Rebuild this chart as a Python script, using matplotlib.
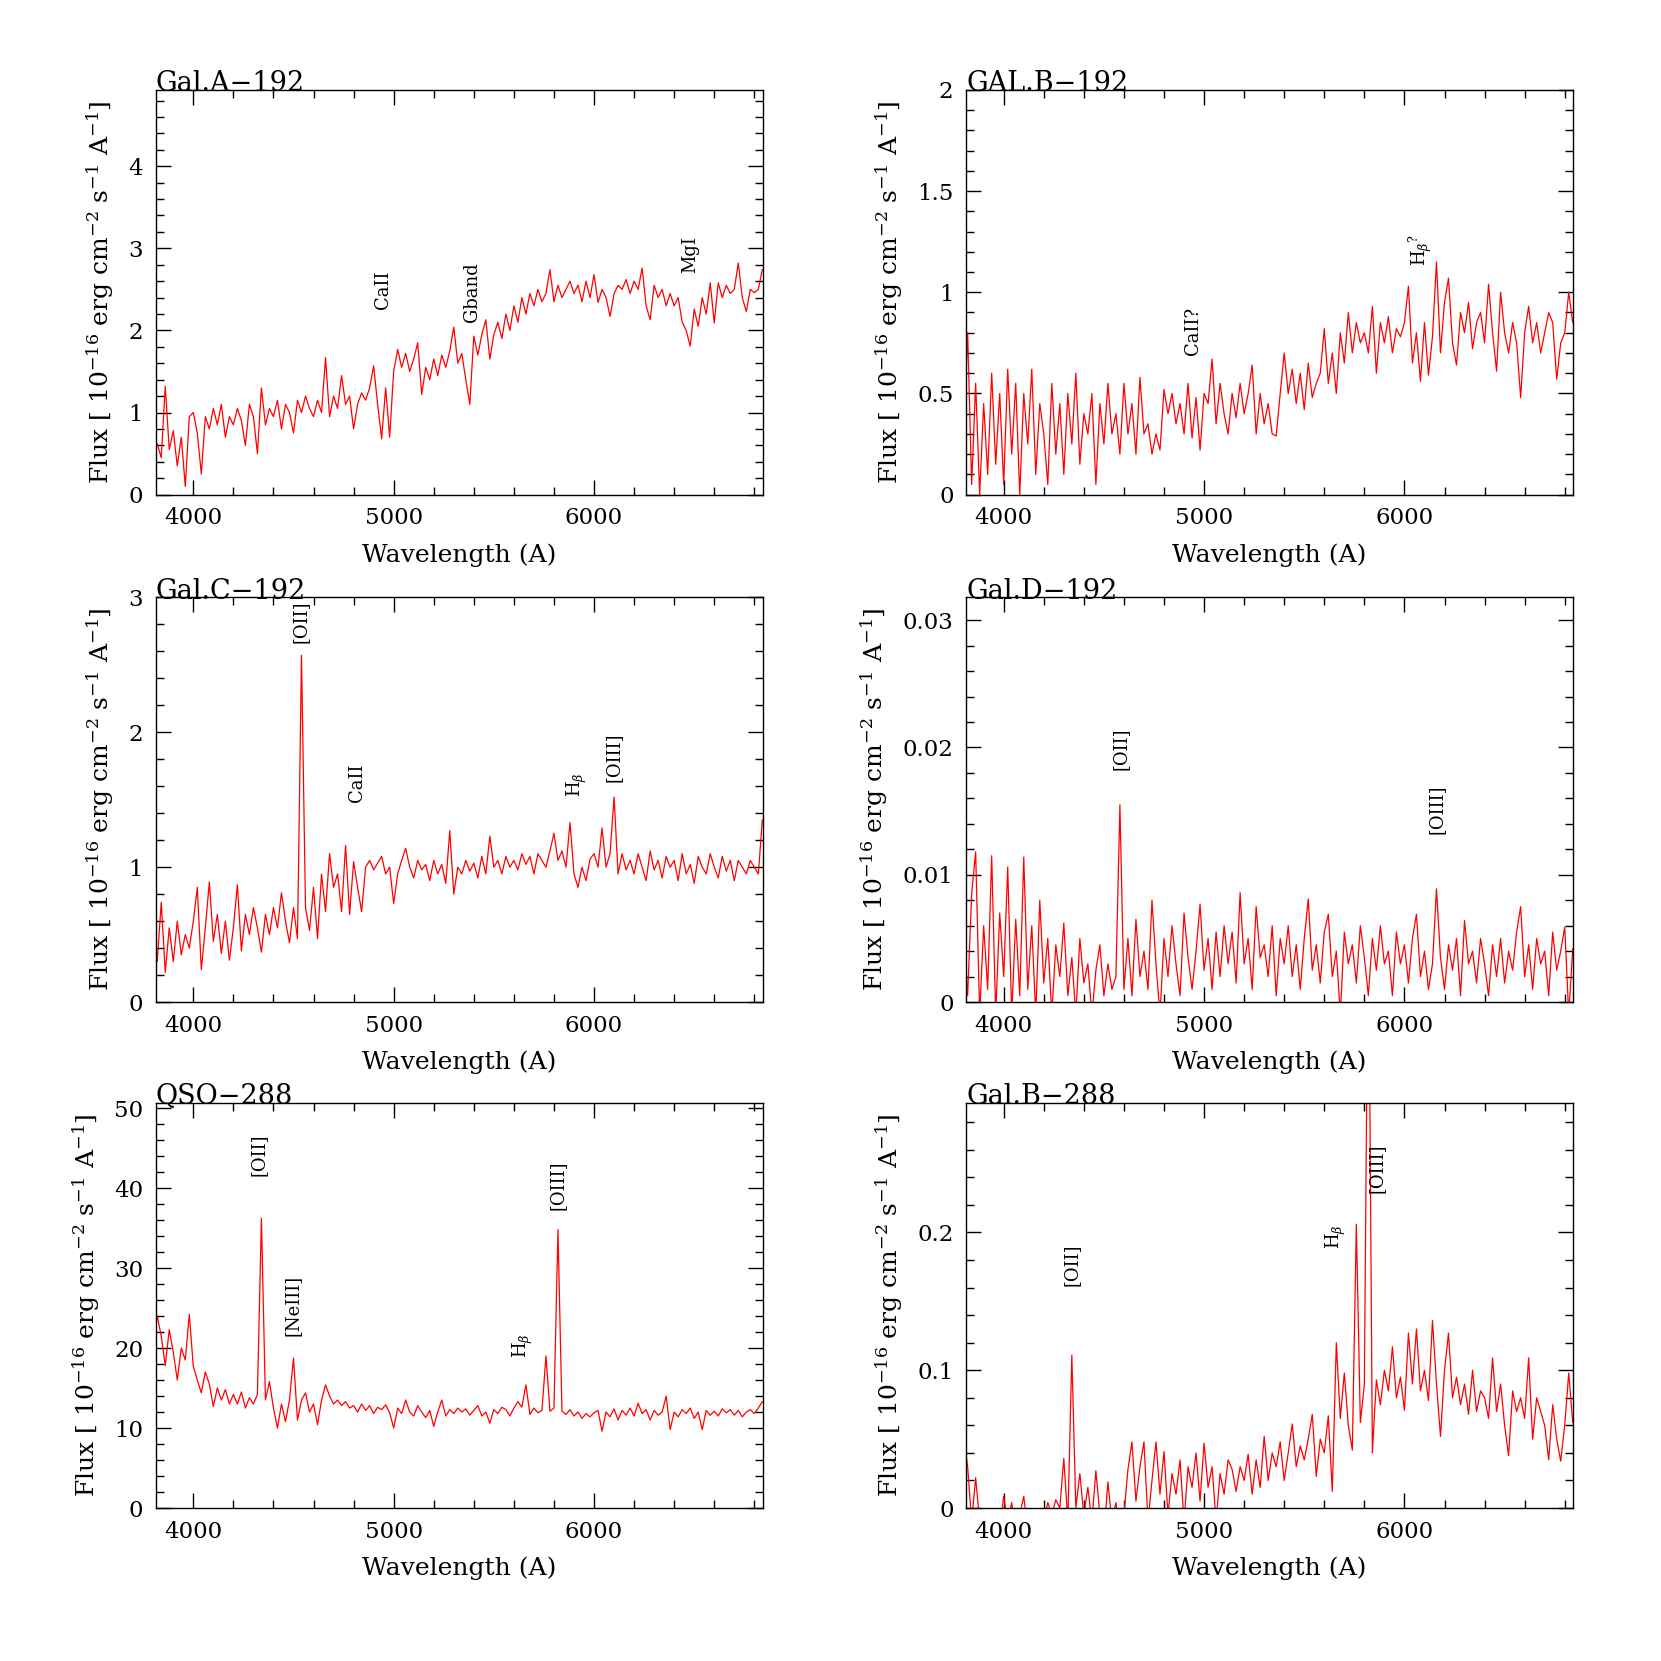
import numpy as np
import matplotlib.pyplot as plt
from matplotlib.ticker import MultipleLocator, FuncFormatter

plt.rcParams['font.family'] = 'DejaVu Serif'
plt.rcParams['mathtext.fontset'] = 'dejavuserif'

# wavelength sampling of the spectra (A)
wave = np.arange(3800, 6841, 20)

gal_a_192 = [
    0.5, 0.62, 0.45, 1.32, 0.55, 0.78, 0.35, 0.7, 0.1, 0.95,
    1.0, 0.75, 0.25, 0.95, 0.8, 1.05, 0.85, 1.1, 0.7, 0.95,
    0.85, 1.05, 0.9, 0.6, 1.1, 0.95, 0.5, 1.3, 0.85, 1.05,
    0.95, 1.15, 0.8, 1.1, 1.0, 0.75, 1.15, 1.0, 1.2, 1.05,
    0.95, 1.15, 1.0, 1.67, 0.95, 1.2, 1.05, 1.45, 1.1, 1.2,
    0.8, 1.1, 1.24, 1.15, 1.3, 1.57, 1.1, 0.68, 1.3, 0.7,
    1.5, 1.77, 1.55, 1.72, 1.5, 1.65, 1.85, 1.22, 1.55, 1.4,
    1.65, 1.45, 1.7, 1.55, 1.75, 2.04, 1.6, 1.72, 1.4, 1.1,
    1.93, 1.7, 1.95, 2.13, 1.65, 1.95, 2.1, 1.9, 2.2, 2.0,
    2.3, 2.1, 2.4, 2.2, 2.45, 2.3, 2.5, 2.35, 2.45, 2.74,
    2.35, 2.55, 2.4, 2.5, 2.6, 2.45, 2.55, 2.35, 2.6, 2.4,
    2.68, 2.34, 2.5, 2.4, 2.17, 2.45, 2.55, 2.5, 2.62, 2.45,
    2.6, 2.5, 2.76, 2.3, 2.13, 2.55, 2.4, 2.5, 2.3, 2.45,
    2.3, 2.4, 2.1, 2.0, 1.81, 2.26, 2.05, 2.4, 2.2, 2.58,
    2.09, 2.58, 2.4, 2.55, 2.45, 2.5, 2.82, 2.4, 2.23, 2.5,
    2.46, 2.5, 2.74]

gal_b_192 = [
    0.3, 0.8, 0.05, 0.55, 0.0, 0.45, 0.1, 0.6, 0.15, 0.5,
    0.05, 0.62, 0.2, 0.55, 0.0, 0.5, 0.25, 0.62, 0.1, 0.45,
    0.3, 0.05, 0.55, 0.2, 0.45, 0.1, 0.5, 0.25, 0.6, 0.15,
    0.4, 0.3, 0.5, 0.05, 0.45, 0.25, 0.55, 0.3, 0.4, 0.2,
    0.55, 0.3, 0.45, 0.2, 0.58, 0.3, 0.35, 0.2, 0.3, 0.22,
    0.52, 0.4, 0.5, 0.35, 0.45, 0.3, 0.55, 0.28, 0.48, 0.22,
    0.5, 0.45, 0.67, 0.35, 0.55, 0.4, 0.3, 0.5, 0.38, 0.55,
    0.4, 0.5, 0.64, 0.3, 0.5, 0.35, 0.45, 0.3, 0.29, 0.5,
    0.7, 0.5, 0.62, 0.45, 0.6, 0.42, 0.65, 0.48, 0.55, 0.6,
    0.82, 0.55, 0.7, 0.5, 0.8, 0.65, 0.9, 0.7, 0.85, 0.75,
    0.8, 0.7, 0.93, 0.6, 0.85, 0.75, 0.88, 0.7, 0.82, 0.78,
    0.85, 1.03, 0.65, 0.8, 0.56, 0.85, 0.59, 0.78, 1.15, 0.7,
    0.95, 1.07, 0.75, 0.64, 0.9, 0.8, 0.95, 0.72, 0.85, 0.9,
    0.75, 1.04, 0.8, 0.61, 1.0, 0.8, 0.7, 0.85, 0.75, 0.48,
    0.8, 0.93, 0.75, 0.85, 0.7, 0.8, 0.9, 0.85, 0.57, 0.75,
    0.8, 1.0, 0.85]

gal_c_192 = [
    0.45, 0.3, 0.74, 0.22, 0.55, 0.3, 0.6, 0.35, 0.5, 0.4,
    0.6, 0.85, 0.24, 0.55, 0.89, 0.45, 0.65, 0.36, 0.6, 0.31,
    0.55, 0.87, 0.38, 0.65, 0.5, 0.7, 0.55, 0.37, 0.65, 0.5,
    0.7, 0.55, 0.81, 0.6, 0.44, 0.7, 0.47, 2.57, 0.7, 0.53,
    0.85, 0.47, 0.95, 0.67, 1.1, 0.85, 0.95, 0.67, 1.16, 0.65,
    1.04, 0.85, 0.67, 1.0, 1.05, 0.98, 1.03, 1.08, 0.95, 1.0,
    0.73, 0.95, 1.05, 1.14, 1.0, 0.92, 1.05, 0.98, 1.02, 0.9,
    1.05, 0.95, 1.02, 0.88, 1.27, 0.8, 1.0, 0.95, 1.05, 0.97,
    1.03, 0.92, 1.08, 0.95, 1.23, 1.0, 1.05, 0.95, 1.08, 1.0,
    1.05, 0.98, 1.1, 1.02, 1.08, 0.95, 1.1, 1.05, 1.0, 1.12,
    1.25, 1.05, 1.12, 1.0, 1.33, 0.95, 0.85, 1.0, 0.9, 1.06,
    1.1, 1.0, 1.29, 1.0, 1.1, 1.52, 0.95, 1.1, 0.98, 1.05,
    0.95, 1.1, 1.0, 0.9, 1.12, 0.98, 1.05, 0.92, 1.08, 1.0,
    1.05, 0.9, 1.1, 0.95, 1.02, 0.88, 1.08, 1.0, 0.95, 1.1,
    1.0, 0.92, 1.08, 0.97, 1.05, 0.9, 1.05, 1.0, 0.95, 1.05,
    1.0, 0.95, 1.35]

gal_d_192 = [
    0.0050, 0.0005, 0.0085, 0.0118, -0.0010, 0.0060, 0.0010, 0.0115, -0.0010, 0.0070,
    0.0020, 0.0106, -0.0010, 0.0065, 0.0005, 0.0114, 0.0010, 0.0060, -0.0010, 0.0080,
    0.0015, 0.0050, -0.0010, 0.0045, 0.0020, 0.0062, 0.0005, 0.0035, -0.0010, 0.0050,
    0.0015, 0.0030, -0.0010, 0.0025, 0.0045, 0.0005, 0.0030, 0.0010, 0.0020, 0.0155,
    0.0010, 0.0050, 0.0005, 0.0065, 0.0020, 0.0040, 0.0010, 0.0080, 0.0030, -0.0010,
    0.0050, 0.0020, 0.0060, 0.0030, 0.0005, 0.0070, 0.0035, 0.0010, 0.0040, 0.0077,
    0.0025, 0.0050, 0.0010, 0.0055, 0.0020, 0.0060, 0.0030, 0.0055, 0.0015, 0.0086,
    0.0030, 0.0050, 0.0010, 0.0075, 0.0035, 0.0045, 0.0020, 0.0060, 0.0005, 0.0050,
    0.0030, 0.0060, 0.0020, 0.0045, 0.0010, 0.0050, 0.0081, 0.0025, 0.0045, 0.0015,
    0.0055, 0.0069, 0.0020, 0.0040, -0.0010, 0.0055, 0.0030, 0.0045, 0.0015, 0.0060,
    0.0035, 0.0005, 0.0050, 0.0025, 0.0060, 0.0030, 0.0040, 0.0005, 0.0055, 0.0030,
    0.0045, 0.0015, 0.0050, 0.0069, 0.0020, 0.0040, 0.0010, 0.0030, 0.0089, 0.0035,
    0.0010, 0.0045, 0.0025, 0.0050, 0.0005, 0.0064, 0.0030, 0.0040, 0.0015, 0.0050,
    0.0030, 0.0005, 0.0045, 0.0020, 0.0050, 0.0015, 0.0040, 0.0025, 0.0055, 0.0075,
    0.0020, 0.0045, 0.0010, 0.0050, 0.0030, 0.0040, 0.0005, 0.0055, 0.0025, 0.0040,
    0.0059, -0.0010, 0.0042]

qso_288 = [
    21.0, 24.0, 21.5, 17.8, 22.3, 19.5, 16.0, 20.0, 18.5, 24.2,
    17.7, 16.0, 14.4, 17.0, 15.5, 12.7, 15.0, 13.5, 14.8, 13.0,
    14.2, 13.0, 14.5, 12.5, 13.8, 13.0, 14.2, 36.2, 13.5, 15.8,
    12.5, 10.0, 13.0, 10.8, 13.5, 18.75, 11.0, 13.5, 14.4, 12.0,
    13.0, 10.4, 13.5, 15.4, 14.0, 13.0, 13.5, 12.8, 13.3, 12.5,
    12.8, 12.0, 13.0, 12.2, 12.8, 11.8, 12.6, 12.3, 12.9, 11.9,
    10.0, 12.5, 11.8, 13.5, 12.0, 11.5, 12.8, 12.0, 11.3, 12.2,
    10.2, 12.0, 13.5, 11.5, 12.3, 11.8, 12.5, 12.0, 12.4, 11.6,
    12.2, 12.8, 11.5, 12.0, 10.6, 12.3, 11.8, 12.6, 12.3, 11.5,
    12.5, 13.3, 12.6, 15.4, 11.7, 12.5, 11.9, 12.2, 19.0, 12.1,
    12.5, 34.8, 12.1, 11.7, 12.3, 11.5, 12.0, 11.2, 11.8, 11.4,
    11.9, 12.2, 9.6, 12.0, 11.4, 12.4, 11.0, 12.2, 11.6, 12.5,
    11.5, 13.1, 11.8, 12.3, 11.0, 12.2, 11.6, 12.0, 14.0, 9.8,
    12.0, 11.4, 12.3, 11.8, 12.5, 11.2, 12.0, 9.8, 12.2, 11.6,
    12.1, 11.5, 12.4, 11.9, 12.3, 11.6, 12.2, 11.4, 12.0, 12.3,
    11.8, 12.5, 13.3]

gal_b_288 = [
    0.052, 0.03, -0.01, 0.022, -0.01, -0.02, -0.005, -0.02, -0.01, -0.015,
    0.0085, -0.01, 0.004, -0.02, -0.005, 0.0085, -0.015, -0.01, -0.02, -0.005,
    -0.01, 0.004, -0.005, 0.006, 0.0, 0.036, -0.01, 0.111, 0.0, 0.025,
    -0.005, 0.015, -0.01, 0.027, -0.005, -0.02, 0.019, -0.01, 0.004, -0.02,
    -0.005, 0.028, 0.048, 0.005, 0.03, 0.048, -0.01, 0.02, 0.048, 0.01,
    0.041, -0.005, 0.025, 0.01, 0.035, -0.01, 0.03, 0.015, 0.04, 0.005,
    0.047, 0.015, 0.03, -0.01, 0.025, 0.01, 0.035, 0.028, 0.012, 0.03,
    0.02, 0.039, 0.01, 0.035, 0.015, 0.052, 0.02, 0.04, 0.03, 0.048,
    0.02, 0.04, 0.061, 0.03, 0.045, 0.035, 0.05, 0.068, 0.023, 0.05,
    0.04, 0.067, 0.012, 0.12, 0.065, 0.098, 0.06, 0.042, 0.206, 0.062,
    0.09, 0.45, 0.04, 0.093, 0.075, 0.1, 0.085, 0.117, 0.08, 0.095,
    0.071, 0.127, 0.09, 0.13, 0.085, 0.1, 0.078, 0.136, 0.09, 0.052,
    0.1, 0.127, 0.08, 0.095, 0.075, 0.09, 0.068, 0.1, 0.07, 0.085,
    0.08, 0.065, 0.109, 0.07, 0.09, 0.06, 0.038, 0.085, 0.07, 0.08,
    0.065, 0.109, 0.05, 0.08, 0.07, 0.06, 0.035, 0.075, 0.05, 0.034,
    0.06, 0.098, 0.062]

titles = ['Gal.A\u2212192', 'GAL.B\u2212192', 'Gal.C\u2212192',
          'Gal.D\u2212192', 'QSO\u2212288', 'Gal.B\u2212288']

# line identifications: (wavelength, flux at bottom of label, text)
ids_a = [(4947, 2.26, 'CaII'), (5392, 2.10, 'Gband'), (6481, 2.70, 'MgI')]
ids_b = [(4947, 0.69, 'CaII?'), (6079, 1.13, r'H$_\beta{}^?$')]
ids_c = [(4534, 2.66, '[OII]'), (4815, 1.48, 'CaII'),
         (5915, 1.52, r'H$_\beta$'), (6095, 1.63, '[OIII]')]
ids_d = [(4582, 0.01825, '[OII]'), (6159, 0.01317, '[OIII]')]
ids_q = [(4328, 41.5, '[OII]'), (4497, 21.5, '[NeIII]'),
         (5646, 18.7, r'H$_\beta$'), (5820, 37.3, '[OIII]')]
ids_e = [(4339, 0.1615, '[OII]'), (5656, 0.1877, r'H$_\beta$'),
         (5862, 0.2285, '[OIII]')]

ylab = r'Flux [ 10$^{-16}$ erg cm$^{-2}$ s$^{-1}$ A$^{-1}$]'


def panel(pos, flux, title, ymax, major, minor, ids):
    ax = fig.add_axes(pos)
    ax.plot(wave, flux, color='red', lw=0.9)
    ax.set_xlim(3812, 6842)
    ax.set_ylim(0, ymax)
    ax.xaxis.set_major_locator(MultipleLocator(1000))
    ax.xaxis.set_minor_locator(MultipleLocator(200))
    ax.yaxis.set_major_locator(MultipleLocator(major))
    ax.yaxis.set_minor_locator(MultipleLocator(minor))
    ax.yaxis.set_major_formatter(FuncFormatter(lambda v, p: '%g' % round(v, 6)))
    ax.tick_params(which='both', direction='in', top=True, right=True,
                   labelsize=16.5, pad=9, width=1)
    ax.tick_params(which='major', length=11)
    ax.tick_params(which='minor', length=6)
    for s in ax.spines.values():
        s.set_linewidth(1.0)
    ax.set_xlabel('Wavelength (A)', fontsize=18, labelpad=10)
    ax.set_ylabel(ylab, fontsize=18, labelpad=9)
    ax.text(0, 0.997, title, transform=ax.transAxes, fontsize=19.5, va='baseline')
    for lam, yb, txt in ids:
        ax.text(lam, yb, txt, rotation=90, ha='center', va='bottom', fontsize=13)
    return ax


fig = plt.figure(figsize=(16.61, 16.61), dpi=100)
xl, xr, w = 0.0937, 0.5816, 0.3655
yt, ym, yb, h = 0.7022, 0.3967, 0.0921, 0.2437

panel([xl, yt, w, h], gal_a_192, titles[0], 4.93, 1, 0.2, ids_a)
panel([xr, yt, w, h], gal_b_192, titles[1], 2.0, 0.5, 0.1, ids_b)
panel([xl, ym, w, h], gal_c_192, titles[2], 3.0, 1, 0.2, ids_c)
panel([xr, ym, w, h], gal_d_192, titles[3], 0.0318, 0.01, 0.002, ids_d)
panel([xl, yb, w, h], qso_288, titles[4], 50.6, 10, 2, ids_q)
panel([xr, yb, w, h], gal_b_288, titles[5], 0.2938, 0.1, 0.02, ids_e)

fig.savefig('out.png', dpi=100)
